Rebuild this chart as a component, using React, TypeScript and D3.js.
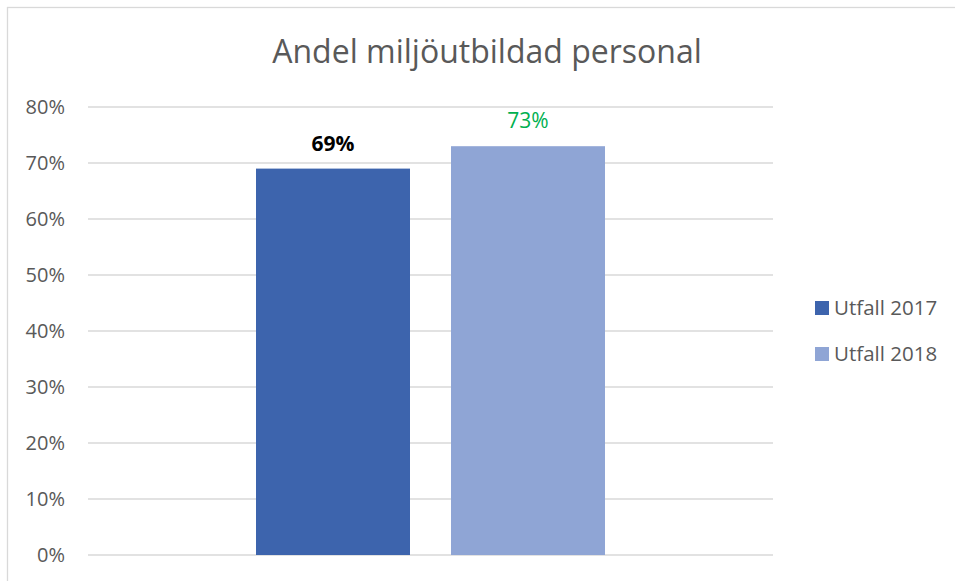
import React from "react";
import * as d3 from "d3";

const categories = [""];
const seriesNames = ["Utfall 2017", "Utfall 2018"];
const seriesValues = [0.69, 0.73];
const seriesColors = ["#3D64AD", "#8FA5D5"];
const labelColors = ["#000000", "#00B050"];
const labelWeights = ["bold", "normal"];
const yTicks = [0, 0.1, 0.2, 0.3, 0.4, 0.5, 0.6, 0.7, 0.8];
const title = "Andel miljöutbildad personal";

const W = 955;
const H = 581;
const FONT = "'Open Sans', 'Noto Sans', sans-serif";
const GRAY = "#595959";

export default function App() {
  const plotLeft = 88;
  const plotRight = 773;
  const plotTop = 107;
  const plotBottom = 555;

  const y = d3.scaleLinear().domain([0, 0.8]).range([plotBottom, plotTop]);
  const x0 = d3.scaleBand<string>().domain(categories).range([plotLeft, plotRight]).padding(0);
  const x1 = d3
    .scaleBand<string>()
    .domain(seriesNames)
    .range([0, x0.bandwidth()])
    .paddingInner(0.2103)
    .paddingOuter(0.8615);
  const fmt = d3.format(".0%");

  return (
    <svg
      width={W}
      height={H}
      style={{ position: "absolute", left: 0, top: 0, display: "block" }}
    >
      <rect x={0} y={0} width={W} height={H} fill="#ffffff" />
      <rect x={7.5} y={7.5} width={W + 20} height={H + 20} fill="none" stroke="#d9d9d9" strokeWidth={1.3} />
      <text
        x={487}
        y={63}
        textAnchor="middle"
        fontFamily={FONT}
        fontSize={32}
        fill={GRAY}
      >
        {title}
      </text>
      {yTicks.map((t) => (
        <g key={t}>
          <line
            x1={plotLeft}
            x2={plotRight}
            y1={y(t)}
            y2={y(t)}
            stroke="#d9d9d9"
            strokeWidth={1.3}
          />
          <text
            x={65}
            y={y(t) + 7}
            textAnchor="end"
            fontFamily={FONT}
            fontSize={20}
            fill={GRAY}
          >
            {fmt(t)}
          </text>
        </g>
      ))}
      {categories.map((c) => (
        <g key={c} transform={`translate(${x0(c)},0)`}>
          {seriesNames.map((s, i) => {
            const bx = x1(s) as number;
            const v = seriesValues[i];
            return (
              <g key={s}>
                <rect
                  x={bx}
                  y={y(v)}
                  width={x1.bandwidth()}
                  height={y(0) - y(v)}
                  fill={seriesColors[i]}
                />
                <text
                  x={bx + x1.bandwidth() / 2}
                  y={y(v) - 18}
                  textAnchor="middle"
                  fontFamily={FONT}
                  fontSize={21}
                  fontWeight={labelWeights[i]}
                  fill={labelColors[i]}
                >
                  {fmt(v)}
                </text>
              </g>
            );
          })}
        </g>
      ))}
      {seriesNames.map((s, i) => (
        <g key={s} transform={`translate(815,${301 + i * 46})`}>
          <rect x={0} y={0} width={14} height={14} fill={seriesColors[i]} />
          <text x={19} y={14} fontFamily={FONT} fontSize={20.5} fill={GRAY}>
            {s}
          </text>
        </g>
      ))}
    </svg>
  );
}
